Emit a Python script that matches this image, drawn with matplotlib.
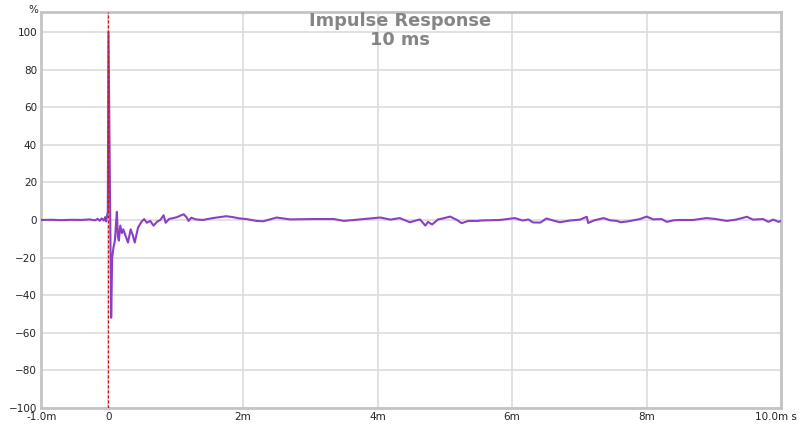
import matplotlib
matplotlib.use('Agg')
import matplotlib.pyplot as plt
import matplotlib.ticker as ticker
import matplotlib.transforms as mtransforms

# impulse response trace: time in ms, amplitude in %
time_ms = [-1.00, -0.85, -0.70, -0.55, -0.40, -0.28, -0.20, -0.16, -0.13, -0.10,
           -0.07, -0.05, -0.035, -0.02, -0.01, 0.00, 0.04, 0.055, 0.075, 0.095,
           0.11, 0.125, 0.14, 0.155, 0.175, 0.20, 0.22, 0.25, 0.29, 0.33,
           0.36, 0.39, 0.44, 0.49, 0.53, 0.57, 0.62, 0.67, 0.72, 0.77,
           0.82, 0.85, 0.90, 0.96, 1.02, 1.08, 1.12, 1.16, 1.19, 1.23,
           1.30, 1.40, 1.55, 1.75, 1.85, 1.95, 2.05, 2.20, 2.30, 2.50,
           2.70, 3.05, 3.35, 3.50, 3.80, 4.04, 4.19, 4.33, 4.48, 4.63,
           4.71, 4.75, 4.81, 4.90, 4.97, 5.08, 5.18, 5.25, 5.35, 5.50,
           5.52, 5.82, 6.04, 6.16, 6.24, 6.31, 6.42, 6.51, 6.60, 6.71,
           6.86, 7.01, 7.11, 7.13, 7.22, 7.36, 7.46, 7.56, 7.61, 7.71,
           7.80, 7.90, 8.00, 8.10, 8.22, 8.30, 8.40, 8.50, 8.69, 8.89,
           9.03, 9.19, 9.33, 9.49, 9.58, 9.73, 9.81, 9.88, 9.96, 10.0]
level_pct = [0.0, 0.1, -0.1, 0.1, 0.0, 0.3, -0.2, 0.6, -0.4, 0.8,
             -0.3, 1.5, -0.8, 2.5, 4.0, 100.0, -52.0, -20.0, -14.5, -11.0,
             -3.0, 4.3, -9.0, -11.0, -3.0, -7.0, -5.0, -8.0, -12.0, -5.0,
             -8.0, -12.0, -4.0, -1.0, 0.5, -1.5, -0.5, -3.0, -1.0, 0.0,
             2.5, -1.5, 0.5, 1.0, 1.5, 2.5, 3.0, 1.5, -0.5, 1.2,
             0.3, 0.0, 1.0, 2.0, 1.5, 0.8, 0.5, -0.5, -0.7, 1.3,
             0.3, 0.5, 0.5, -0.5, 0.5, 1.3, 0.2, 1.0, -1.2, 0.3,
             -3.0, -1.0, -2.4, 0.3, 0.8, 1.8, 0.0, -1.7, -0.5, -0.5,
             -0.3, 0.0, 1.0, -0.3, 0.3, -1.3, -1.4, 0.8, -0.2, -1.2,
             -0.3, 0.2, 1.7, -1.6, -0.2, 1.0, -0.2, -0.5, -1.2, -0.8,
             -0.2, 0.5, 1.8, 0.3, 0.5, -1.0, -0.2, 0.0, 0.0, 1.0,
             0.5, -0.5, 0.2, 1.7, 0.2, 0.5, -1.0, 0.2, -1.0, -0.5]

x_ticks = [-1, 0, 2, 4, 6, 8, 10]
x_labels = ['-1.0m', '0', '2m', '4m', '6m', '8m', '10.0m s']
y_ticks = list(range(-100, 101, 20))

fig = plt.figure(figsize=(8, 4.26), dpi=100)
ax = fig.add_axes([0.0515, 0.0423, 0.925, 0.929])

ax.plot(time_ms, level_pct, color='#8b3fc4', lw=1.5, solid_joinstyle='round', zorder=3)
ax.axvline(0, color='#cc1111', lw=0.9, ls=(0, (2.5, 1.5)), zorder=4)

ax.set_xlim(-1, 10)
ax.set_ylim(-100, 110.5)
ax.xaxis.set_major_locator(ticker.FixedLocator(x_ticks))
ax.set_xticklabels(x_labels)
ax.set_yticks(y_ticks)
ax.grid(True, color='#dcdcdc', lw=1.2, zorder=0)
ax.set_axisbelow(True)
ax.tick_params(length=0, labelsize=7.5, colors='#222222', pad=3)

# last label sits a little left so it stays inside the picture
last = ax.get_xticklabels()[-1]
last.set_transform(last.get_transform() +
                   mtransforms.ScaledTranslation(-5 / 100, 0, fig.dpi_scale_trans))

for s in ax.spines.values():
    s.set_color('#c4c4c4')
    s.set_linewidth(2)

fig.text(0.042, 0.988, '%', fontsize=7.5, color='#222222', ha='center', va='top')
fig.text(0.50, 0.972, 'Impulse Response\n10 ms', fontsize=12.8, fontweight='bold',
         color='#858585', ha='center', va='top', linespacing=1.05)

plt.savefig('out.png', dpi=100)
plt.close()
